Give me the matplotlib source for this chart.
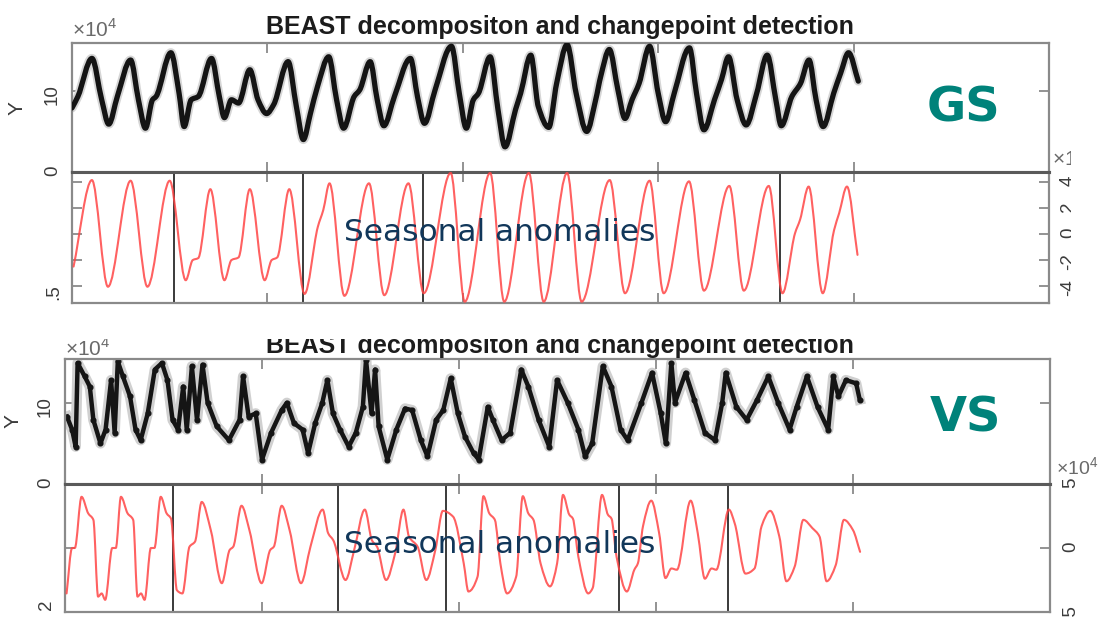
import matplotlib
matplotlib.use('Agg')
import matplotlib.pyplot as plt
from matplotlib.patches import Rectangle, PathPatch
from matplotlib.path import Path
import numpy as np

W, H = 1102, 617
plt.rcParams['font.family'] = ['Liberation Sans', 'DejaVu Sans']
plt.rcParams['axes.unicode_minus'] = False
plt.rcParams['mathtext.fontset'] = 'custom'
plt.rcParams['mathtext.rm'] = 'Liberation Sans'

# ---------------- data (time in years after BASE_YEAR, values in 10^4) ----------------
BASE_YEAR = 2000
title_text = "BEAST decompositon and changepoint detection"
x_ticks = [2005, 2010, 2015, 2020]

gs_top_t = [0.00, 0.15, 0.51, 0.76, 0.94, 1.16, 1.50, 1.70, 1.88, 2.06, 2.15, 2.53, 2.74, 2.87,
            3.05, 3.23, 3.57, 3.77, 3.90, 4.08, 4.26, 4.55, 4.76, 4.98, 5.16, 5.53, 5.74, 5.92,
            6.10, 6.28, 6.57, 6.77, 6.95, 7.22, 7.36, 7.63, 7.81, 7.98, 8.25, 8.66, 8.84, 9.02,
            9.29, 9.71, 9.91, 10.09, 10.27, 10.40, 10.70, 10.90, 11.08, 11.35, 11.48, 11.74,
            11.93, 12.20, 12.40, 12.67, 12.90, 13.17, 13.40, 13.53, 13.75, 13.97, 14.15, 14.33,
            14.51, 14.78, 15.00, 15.19, 15.41, 15.80, 15.98, 16.17, 16.44, 16.62, 16.80, 17.02,
            17.25, 17.52, 17.79, 18.01, 18.15, 18.42, 18.64, 18.86, 19.04, 19.22, 19.49, 19.67,
            19.87, 20.12]
gs_top_v = [7.9, 9.3, 14.0, 8.9, 5.9, 9.3, 13.8, 8.9, 5.4, 8.9, 9.3, 14.7, 9.7, 5.6,
            8.9, 9.3, 14.0, 9.3, 6.7, 8.9, 8.5, 12.6, 8.9, 7.2, 8.3, 13.6, 8.1, 4.0,
            7.2, 10.5, 14.2, 8.9, 5.4, 9.3, 10.1, 13.6, 8.9, 5.7, 9.3, 14.0, 9.3, 6.0,
            10.1, 15.5, 9.7, 5.4, 8.9, 9.7, 14.2, 7.7, 3.1, 7.7, 9.7, 14.4,
            8.1, 5.5, 10.9, 15.7, 9.7, 5.0, 8.9, 11.8, 15.1, 10.1, 6.6, 8.9,
            10.9, 15.5, 9.7, 6.2, 9.7, 15.3, 9.7, 5.2, 8.9, 11.4, 14.2, 8.9,
            5.8, 9.7, 14.4, 8.9, 5.7, 9.3, 10.9, 13.8, 8.9, 5.6, 9.7, 12.2,
            14.7, 11.2]

gs_seas_t = [0.04, 0.51, 0.92, 1.50, 1.93, 2.50, 2.91, 3.09, 3.23, 3.54, 3.90, 4.08, 4.26, 4.55,
             4.93, 5.11, 5.25, 5.56, 5.95, 6.29, 6.43, 6.59, 6.97, 7.60, 7.99, 8.61, 9.00, 9.69,
             10.05, 10.70, 11.06, 11.69, 12.07, 12.67, 13.04, 13.76, 14.15, 14.78, 15.14, 15.79,
             16.17, 16.82, 17.19, 17.83, 18.18, 18.50, 18.63, 18.85, 19.21, 19.50, 19.63, 19.83,
             20.10]
gs_seas_v = [-2.5, 4.15, -4.05, 4.1, -4.05, 4.1, -3.55, -2.0, -1.85, 3.45, -3.55, -2.0, -1.8, 3.45,
             -3.55, -2.0, -1.8, 3.45, -4.6, 0.55, 1.85, 3.9, -4.75, 3.9, -4.7, 3.9, -4.55, 4.7,
             -5.2, 4.7, -5.2, 4.7, -5.2, 4.7, -5.2, 4.15, -4.55, 4.1, -4.55, 4.05,
             -4.35, 3.7, -4.35, 3.7, -4.55, 0.05, 1.1, 3.65, -4.55, 0.3, 1.6, 3.65,
             -1.6]
gs_changepoints = [2.6, 5.9, 8.97, 18.12]

vs_top_t = [0.05, 0.18, 0.27, 0.32, 0.50, 0.63, 0.72, 0.90, 1.03, 1.17, 1.26, 1.34, 1.47, 1.65,
            1.79, 1.92, 2.10, 2.28, 2.46, 2.60, 2.73, 2.87, 3.00, 3.09, 3.22, 3.35, 3.49, 3.62,
            3.85, 4.16, 4.43, 4.52, 4.66, 4.84, 5.00, 5.23, 5.50, 5.63, 5.81, 6.03, 6.17, 6.35,
            6.53, 6.66, 6.80, 6.98, 7.20, 7.38, 7.56, 7.64, 7.78, 7.87, 7.96, 8.18, 8.41, 8.63,
            8.81, 9.03, 9.20, 9.42, 9.60, 9.79, 9.97, 10.15, 10.37, 10.50, 10.73, 10.86, 11.08,
            11.30, 11.58, 11.76, 12.02, 12.29, 12.49, 12.76, 13.03, 13.20, 13.38, 13.65, 13.87,
            14.10, 14.28, 14.63, 14.90, 15.12, 15.25, 15.39, 15.48, 15.75, 15.97, 16.24, 16.50,
            16.68, 16.77, 17.04, 17.30, 17.57, 17.85, 18.10, 18.39, 18.57, 18.83, 19.10, 19.37,
            19.50, 19.63, 19.82, 20.08, 20.17]
vs_top_v = [8.3, 6.7, 4.6, 14.9, 13.25, 12.0, 7.9, 5.0, 6.7, 12.8, 6.3, 15.1, 13.25, 10.8,
            6.7, 5.4, 8.7, 14.1, 14.9, 12.8, 7.9, 6.7, 12.0, 6.7, 14.5, 7.9, 14.7, 10.0,
            7.1, 5.4, 7.9, 13.25, 8.3, 8.7, 3.0, 6.3, 9.1, 10.0, 7.5, 6.7, 3.8, 7.5,
            10.0, 12.8, 8.7, 6.7, 4.6, 6.3, 9.5, 15.3, 8.7, 14.1, 7.1, 3.0, 6.7, 9.3,
            9.1, 5.4, 3.4, 7.9, 9.1, 13.0, 8.7, 5.85, 3.8, 3.0, 9.5, 7.9, 5.4,
            6.3, 14.1, 12.0, 7.9, 4.6, 12.8, 10.0, 6.7, 3.4, 5.0, 14.5, 12.0,
            6.7, 5.4, 10.0, 13.7, 8.7, 5.0, 14.9, 10.0, 13.7, 10.4, 6.3, 5.4,
            10.0, 13.7, 9.5, 7.9, 10.4, 13.25, 10.0, 6.7, 9.5, 13.25, 9.5, 6.7,
            13.25, 10.8, 12.8, 12.4, 10.4]

vs_seas_t = [0.04, 0.18, 0.25, 0.42, 0.59, 0.72, 0.84, 0.93, 1.02, 1.20, 1.29, 1.42, 1.59, 1.73,
             1.84, 1.93, 2.02, 2.18, 2.27, 2.43, 2.58, 2.69, 2.84, 2.98, 3.16, 3.30, 3.47, 3.70,
             3.98, 4.18, 4.27, 4.48, 4.68, 4.99, 5.21, 5.30, 5.50, 5.70, 5.99, 6.23, 6.54, 6.68,
             6.81, 7.12, 7.34, 7.61, 7.79, 7.92, 8.15, 8.38, 8.59, 8.73, 8.95, 9.17, 9.40, 9.59,
             9.85, 10.12, 10.24, 10.47, 10.62, 10.77, 10.91, 11.05, 11.22, 11.45, 11.62, 11.76,
             11.89, 12.07, 12.31, 12.49, 12.64, 12.80, 12.89, 13.03, 13.28, 13.39, 13.63, 13.78,
             13.87, 14.00, 14.26, 14.45, 14.54, 14.67, 14.88, 15.08, 15.24, 15.39, 15.53, 15.88,
             16.06, 16.24, 16.41, 16.53, 16.85, 17.00, 17.27, 17.50, 17.68, 17.90, 18.13, 18.31,
             18.52, 18.74, 18.97, 19.15, 19.33, 19.56, 19.77, 20.00, 20.18]
vs_seas_v = [-3.55, 0.0, 0.0, 4.0, 2.7, 2.2, -3.8, -3.55, -4.05, 0.0, 0.0, 4.0, 2.7, 2.2,
             -3.8, -3.55, -4.05, 0.0, 0.0, 4.0, 2.7, 2.3, -3.3, -3.55, 0.1, 0.5, 3.6, 1.4,
             -2.75, -0.15, 0.1, 3.3, 1.4, -2.75, -0.15, 0.1, 3.3, 1.4, -2.75, 0.1, 3.0, 1.15,
             0.6, -2.5, -0.15, 3.0, 0.6, 0.1, -2.5, -0.4, 3.0, 0.9, 0.1, -2.5, -0.15, 2.9,
             2.45, -1.2, -3.4, -2.25, 4.05, 2.7, 2.2, -1.2, -3.55, -2.25, 4.05, 2.7,
             2.2, -1.2, -3.0, -1.2, 4.15, 2.6, 2.3, -0.7, -3.55, -3.15, 4.15, 2.6,
             2.3, -0.7, -3.4, -1.7, -1.2, 1.7, 3.7, 1.15, -2.35, -1.6, -1.7, 3.7,
             1.15, -2.4, -1.6, -1.7, 3.0, 1.9, -2.0, -1.6, 1.7, 2.9, 0.9, -2.6,
             -1.45, 2.2, 1.55, 0.9, -2.6, -1.35, 2.2, 1.4, -0.3]
vs_changepoints = [2.73, 6.92, 9.68, 14.07, 16.82]

# ---------------- helpers ----------------
FRAME = '#8a8a8a'
LABEL = '#3c3c3c'
SEP = '#5a5a5a'


def px_rect(x0, y0, x1, y1):
    return [x0 / W, 1 - y1 / H, (x1 - x0) / W, (y1 - y0) / H]


def fx(x):
    return x / W


def fy(y):
    return 1 - y / H


def yrs(t):
    return np.asarray(t, float) + BASE_YEAR


def smooth_path(t, v):
    """Monotone cubic (PCHIP-style) Bezier path through the read points."""
    t = yrs(t)
    v = np.asarray(v, float)
    h = np.diff(t)
    d = np.diff(v) / h
    n = len(t)
    s = np.zeros(n)
    for i in range(1, n - 1):
        if d[i - 1] * d[i] > 0:
            w1 = 2 * h[i] + h[i - 1]
            w2 = h[i] + 2 * h[i - 1]
            s[i] = (w1 + w2) / (w1 / d[i - 1] + w2 / d[i])
    s[0], s[-1] = d[0], d[-1]
    verts = [(t[0], v[0])]
    codes = [Path.MOVETO]
    for i in range(n - 1):
        verts += [(t[i] + h[i] / 3, v[i] + s[i] * h[i] / 3),
                  (t[i + 1] - h[i] / 3, v[i + 1] - s[i + 1] * h[i] / 3),
                  (t[i + 1], v[i + 1])]
        codes += [Path.CURVE4] * 3
    return Path(verts, codes)


def draw_smooth(ax, t, v, color, lw, alpha=1.0, zorder=2):
    ax.add_patch(PathPatch(smooth_path(t, v), fill=False, edgecolor=color, lw=lw,
                           alpha=alpha, joinstyle='round', capstyle='round', zorder=zorder))


fig = plt.figure(figsize=(W / 100, H / 100), dpi=100)
fig.patch.set_facecolor('white')


def make_panel(rect, ylim, yticks):
    ax = fig.add_axes(px_rect(*rect))
    ax.set_xlim(BASE_YEAR, BASE_YEAR + 25)
    ax.set_ylim(*ylim)
    ax.set_xticks(x_ticks)
    ax.set_yticks(yticks)
    for s in ax.spines.values():
        s.set_color(FRAME)
        s.set_linewidth(1.6)
    ax.tick_params(direction='in', length=7, width=1.3, color=FRAME, labelcolor=LABEL,
                   top=True, bottom=True, left=True, right=True,
                   labelbottom=False, labeltop=False, labelleft=False, labelright=False,
                   labelsize=13.5)
    return ax


# ---------------- GS block ----------------
ax1 = make_panel((72, 43, 1049, 172), (0, 15.9), [0, 10])
ax1.spines['bottom'].set_color(SEP)
ax1.spines['bottom'].set_linewidth(2.2)
draw_smooth(ax1, gs_top_t, gs_top_v, '#d6d6d6', 6.5)
draw_smooth(ax1, gs_top_t, gs_top_v, '#141414', 3.8, zorder=3)
ax1.tick_params(axis='y', labelleft=True, labelrotation=90, pad=8)

ax2 = make_panel((72, 172, 1049, 303), (-5.3, 4.77), [-4, -2, 0, 2, 4])
ax2.spines['top'].set_color(SEP)
ax2.spines['top'].set_linewidth(2.2)
for cp in gs_changepoints:
    ax2.axvline(BASE_YEAR + cp, color='#3a3a3a', lw=1.4)
draw_smooth(ax2, gs_seas_t, gs_seas_v, '#ff4545', 1.5, alpha=0.85, zorder=3)
ax2.tick_params(axis='y', labelright=True, labelrotation=90, pad=8)

# ---------------- VS block ----------------
ax3 = make_panel((65, 359, 1050, 484), (0, 15.4), [0, 10])
ax3.spines['bottom'].set_color(SEP)
ax3.spines['bottom'].set_linewidth(2.2)
ax3.plot(yrs(vs_top_t), vs_top_v, color='#d0d0d0', lw=7.5, solid_joinstyle='round')
ax3.plot(yrs(vs_top_t), vs_top_v, color='#151515', lw=3.2, marker='o', ms=3.4,
         solid_joinstyle='round')
ax3.tick_params(axis='y', labelleft=True, labelrotation=90, pad=8)

ax4 = make_panel((65, 484, 1050, 612), (-5, 5), [-5, 0, 5])
ax4.spines['top'].set_color(SEP)
ax4.spines['top'].set_linewidth(2.2)
for cp in vs_changepoints:
    ax4.axvline(BASE_YEAR + cp, color='#3a3a3a', lw=1.4)
draw_smooth(ax4, vs_seas_t, vs_seas_v, '#ff4545', 1.5, alpha=0.85, zorder=3)
ax4.tick_params(axis='y', labelright=True, labelrotation=90, pad=9)

# ---------------- texts ----------------
for base in (34, 353):
    fig.text(fx(560), fy(base), title_text, ha='center', va='baseline', fontsize=18,
             fontweight='bold', color='#1c1c1c')
fig.text(fx(17), fy(108), 'Y', ha='center', va='center', rotation=90, fontsize=15,
         color=LABEL)
fig.text(fx(13), fy(421), 'Y', ha='center', va='center', rotation=90, fontsize=15,
         color=LABEL)
fig.text(fx(72), fy(37), r'$\times10^{4}$', ha='left', va='baseline', fontsize=15,
         color='#6a6a6a')
fig.text(fx(65), fy(356), r'$\times10^{4}$', ha='left', va='baseline', fontsize=15,
         color='#6a6a6a')
fig.text(fx(1052), fy(166), r'$\times10^{4}$', ha='left', va='baseline', fontsize=15,
         color='#6a6a6a')
fig.text(fx(1056), fy(475), r'$\times10^{4}$', ha='left', va='baseline', fontsize=14,
         color='#6a6a6a')
fig.text(fx(54), fy(292), '.5', ha='center', va='center', rotation=90, fontsize=13.5,
         color=LABEL)
fig.text(fx(47), fy(605), '2', ha='center', va='center', rotation=90, fontsize=13.5,
         color=LABEL)

fig.text(fx(927), fy(122), 'GS', ha='left', va='baseline', fontsize=34.5, fontweight='bold',
         family='DejaVu Sans', color='#00827a')
fig.text(fx(930), fy(432), 'VS', ha='left', va='baseline', fontsize=34.5, fontweight='bold',
         family='DejaVu Sans', color='#00827a')
fig.text(fx(344), fy(241), 'Seasonal anomalies', ha='left', va='baseline', fontsize=22.5,
         family='DejaVu Sans', color='#11375a')
fig.text(fx(344), fy(553), 'Seasonal anomalies', ha='left', va='baseline', fontsize=22.5,
         family='DejaVu Sans', color='#11375a')

# screenshot crop edges (white cover)
fig.add_artist(Rectangle((0, fy(339)), 1, (339 - 305) / H, transform=fig.transFigure,
                         facecolor='white', edgecolor='none', zorder=20))
fig.add_artist(Rectangle((fx(1071), fy(305)), 1 - fx(1071), (305 - 140) / H,
                         transform=fig.transFigure, facecolor='white', edgecolor='none',
                         zorder=20))

fig.savefig('out.png', dpi=100, facecolor='white')
